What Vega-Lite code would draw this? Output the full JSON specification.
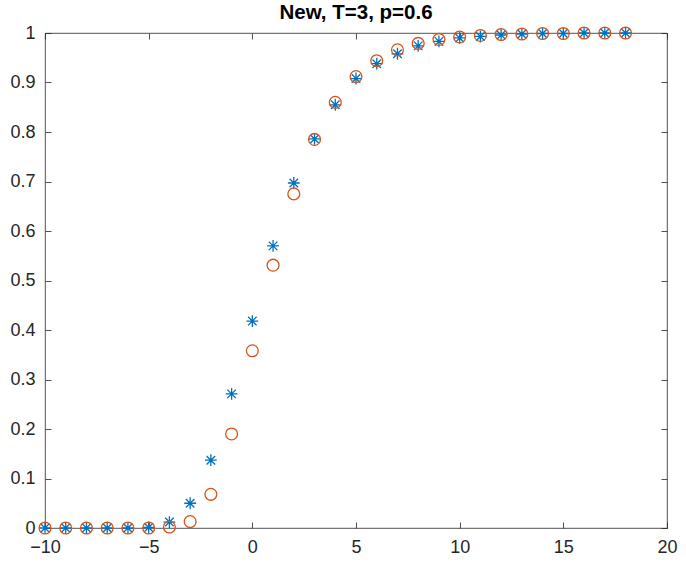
{
  "$schema": "https://vega.github.io/schema/vega-lite/v6.json",
  "autosize": "none",
  "width": 622,
  "height": 495,
  "padding": {"left": 45, "top": 33, "right": 19, "bottom": 36},
  "background": "white",
  "config": {
    "font": "Liberation Sans",
    "view": {"stroke": "#262626", "strokeWidth": 0.8},
    "axis": {"grid": false, "domain": false, "tickColor": "#262626", "labelColor": "#262626", "labelFont": "Liberation Sans", "labelFontSize": 18, "tickSize": -6, "tickWidth": 0.8}
  },
  "title": {"text": "New, T=3, p=0.6", "fontSize": 20.5, "fontWeight": "bold", "font": "Liberation Sans", "color": "#000000", "offset": 1},
  "data": {"values": [
    {"s": "A", "x": -10, "y": 0}, {"s": "A", "x": -9, "y": 0}, {"s": "A", "x": -8, "y": 0}, {"s": "A", "x": -7, "y": 0}, {"s": "A", "x": -6, "y": 0}, {"s": "A", "x": -5, "y": 0.001},
    {"s": "A", "x": -4, "y": 0.012}, {"s": "A", "x": -3, "y": 0.05}, {"s": "A", "x": -2, "y": 0.137}, {"s": "A", "x": -1, "y": 0.271},
    {"s": "A", "x": 0, "y": 0.418}, {"s": "A", "x": 1, "y": 0.57}, {"s": "A", "x": 2, "y": 0.697}, {"s": "A", "x": 3, "y": 0.786},
    {"s": "A", "x": 4, "y": 0.855}, {"s": "A", "x": 5, "y": 0.908}, {"s": "A", "x": 6, "y": 0.938}, {"s": "A", "x": 7, "y": 0.958},
    {"s": "A", "x": 8, "y": 0.974}, {"s": "A", "x": 9, "y": 0.983}, {"s": "A", "x": 10, "y": 0.99}, {"s": "A", "x": 11, "y": 0.993},
    {"s": "A", "x": 12, "y": 0.996}, {"s": "A", "x": 13, "y": 0.998}, {"s": "A", "x": 14, "y": 0.999}, {"s": "A", "x": 15, "y": 0.999},
    {"s": "A", "x": 16, "y": 1}, {"s": "A", "x": 17, "y": 1}, {"s": "A", "x": 18, "y": 1},
    {"s": "B", "x": -10, "y": 0}, {"s": "B", "x": -9, "y": 0}, {"s": "B", "x": -8, "y": 0}, {"s": "B", "x": -7, "y": 0}, {"s": "B", "x": -6, "y": 0}, {"s": "B", "x": -5, "y": 0},
    {"s": "B", "x": -4, "y": 0.002}, {"s": "B", "x": -3, "y": 0.013}, {"s": "B", "x": -2, "y": 0.068}, {"s": "B", "x": -1, "y": 0.19},
    {"s": "B", "x": 0, "y": 0.358}, {"s": "B", "x": 1, "y": 0.531}, {"s": "B", "x": 2, "y": 0.675}, {"s": "B", "x": 3, "y": 0.785},
    {"s": "B", "x": 4, "y": 0.86}, {"s": "B", "x": 5, "y": 0.912}, {"s": "B", "x": 6, "y": 0.944}, {"s": "B", "x": 7, "y": 0.966},
    {"s": "B", "x": 8, "y": 0.979}, {"s": "B", "x": 9, "y": 0.987}, {"s": "B", "x": 10, "y": 0.992}, {"s": "B", "x": 11, "y": 0.995},
    {"s": "B", "x": 12, "y": 0.997}, {"s": "B", "x": 13, "y": 0.998}, {"s": "B", "x": 14, "y": 0.999}, {"s": "B", "x": 15, "y": 0.999},
    {"s": "B", "x": 16, "y": 1}, {"s": "B", "x": 17, "y": 1}, {"s": "B", "x": 18, "y": 1}
  ]},
  "layer": [
    {
      "mark": {"type": "point", "filled": false, "strokeWidth": 1.3, "size": 140, "opacity": 1, "clip": false},
      "encoding": {
        "x": {"field": "x", "type": "quantitative", "scale": {"domain": [-10, 20], "nice": false, "zero": false},
              "axis": {"orient": "bottom", "title": null, "values": [-10, -5, 0, 5, 10, 15, 20], "labelPadding": 16, "labelFlush": false}},
        "y": {"field": "y", "type": "quantitative", "scale": {"domain": [0, 1], "nice": false},
              "axis": {"orient": "left", "title": null, "values": [0, 0.1, 0.2, 0.3, 0.4, 0.5, 0.6, 0.7, 0.8, 0.9, 1], "format": ".1~f", "labelPadding": 16, "labelFlush": false}},
        "color": {"field": "s", "type": "nominal", "legend": null, "scale": {"domain": ["A", "B"], "range": ["#0072BD", "#D95319"]}},
        "shape": {"field": "s", "type": "nominal", "legend": null, "scale": {"domain": ["A", "B"], "range": ["M-1,0L1,0M0,-1L0,1M-0.72,-0.72L0.72,0.72M-0.72,0.72L0.72,-0.72", "circle"]}},
        "order": {"field": "s", "type": "nominal"}
      }
    },
    {
      "mark": {"type": "point", "opacity": 0},
      "encoding": {
        "x": {"field": "x", "type": "quantitative", "axis": {"orient": "top", "title": null, "values": [-10, -5, 0, 5, 10, 15, 20], "labels": false}},
        "y": {"field": "y", "type": "quantitative", "axis": {"orient": "right", "title": null, "values": [0, 0.1, 0.2, 0.3, 0.4, 0.5, 0.6, 0.7, 0.8, 0.9, 1], "labels": false}}
      }
    }
  ],
  "resolve": {"axis": {"x": "independent", "y": "independent"}}
}
